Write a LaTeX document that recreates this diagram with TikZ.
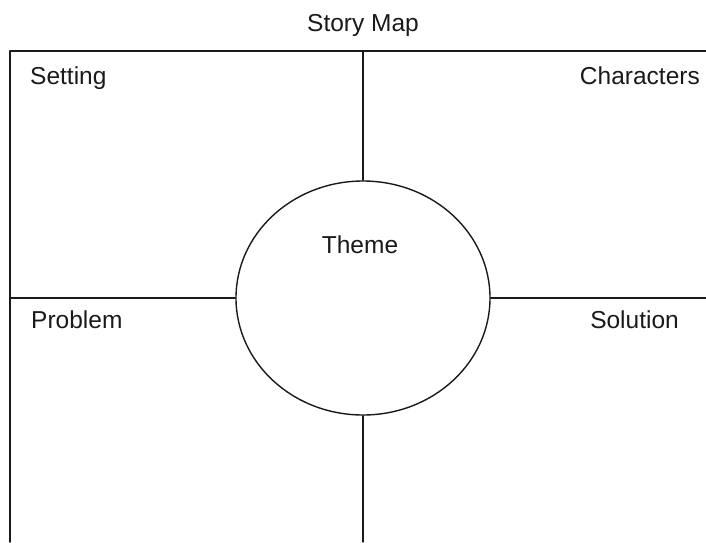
\documentclass[tikz,border=0pt]{standalone}
\usepackage{fontspec}
\setmainfont{Liberation Sans}
\usetikzlibrary{positioning,shapes.geometric}
\definecolor{ink}{HTML}{1A1A1A}
\tikzset{
  every picture/.style={line cap=round, line join=round},
  rule/.style={draw=ink, line width=1.4pt},
  hub/.style={ellipse, draw=ink, line width=1.4pt, fill=white,
    minimum width=254pt, minimum height=234pt, inner sep=0pt},
  lbl/.style={font=\fontsize{24.5}{28}\selectfont, text=ink, inner sep=0pt},
}
\begin{document}
\begin{tikzpicture}[x=1pt, y=-1pt]
  \useasboundingbox (0,0) rectangle (706,542);
  % ---------------- frame ----------------
  \coordinate (tl) at (10,51);
  \coordinate (tr) at (706,51);
  \coordinate (bl) at (10,542);
  \coordinate (ml) at (10,298);
  \coordinate (mr) at (706,298);
  \coordinate (mb) at (363,542);
  \draw[rule] (bl) -- (tl) -- (tr);

  % ---------------- theme circle ----------------
  \node[hub] (theme) at (363,298) {};
  \draw[rule] (theme.north) -- (theme.north |- tl);
  \draw[rule] (theme.south) -- (mb);
  \draw[rule] (theme.west) -- (ml);
  \draw[rule] (theme.east) -- (mr);

  % ---------------- labels ----------------
  \node[lbl, anchor=base] (title) at (363,31) {Story Map};
  \node[lbl, anchor=base] (themelbl) at (360,253) {Theme};
  \node[lbl, anchor=base west] (setting) at (30,84) {Setting};
  \node[lbl, anchor=base east] (chars) at (700,84) {Characters};
  \node[lbl, anchor=base west] (problem) at (31,328) {Problem};
  \node[lbl, anchor=base east] (solution) at (679,328) {Solution};
\end{tikzpicture}
\end{document}
